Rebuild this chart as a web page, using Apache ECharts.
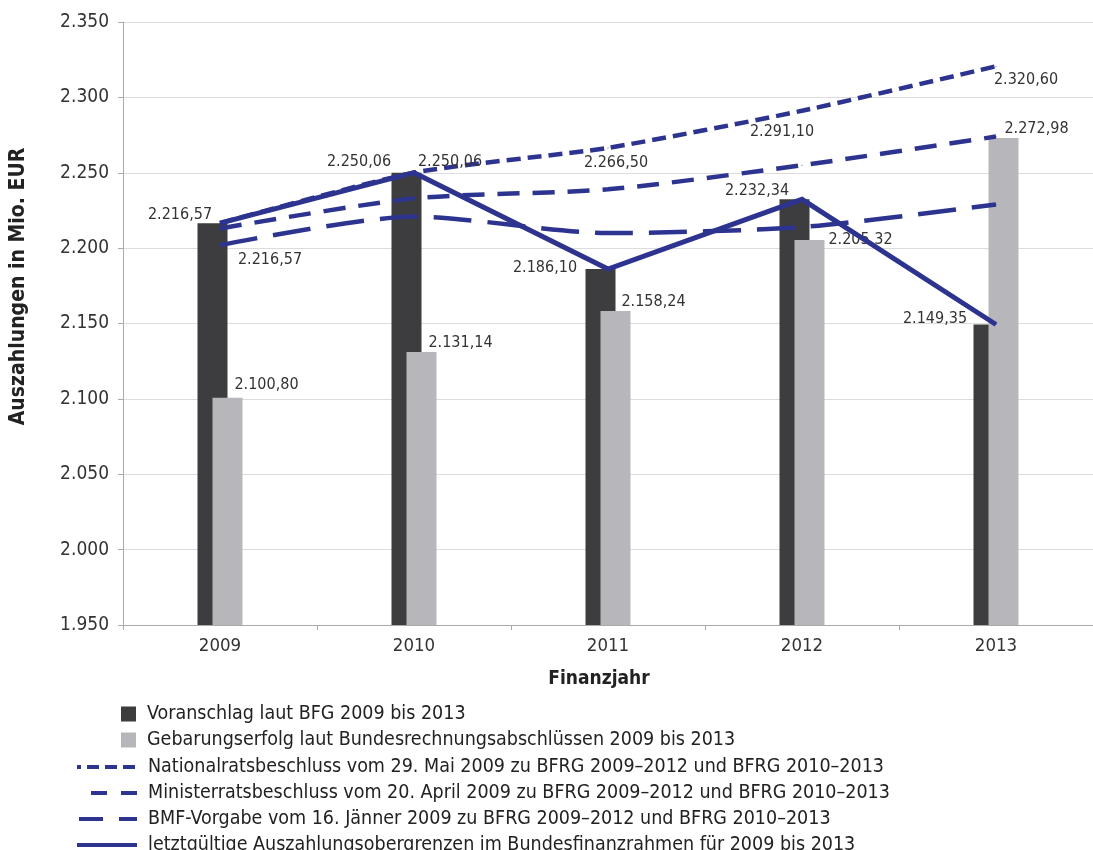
<!DOCTYPE html>
<html>
<head>
<meta charset="utf-8">
<script src="https://cdn.jsdelivr.net/npm/echarts@6/dist/echarts.min.js"></script>
<style>
html,body{margin:0;padding:0;background:#fff;}
#chart{width:1093px;height:850px;}
</style>
</head>
<body>
<div id="chart"></div>
<script>
// ---- data ----
const years = ['2009', '2010', '2011', '2012', '2013'];
const voranschlag = [2216.57, 2250.06, 2186.10, 2232.34, 2149.35];
const gebarungserfolg = [2100.80, 2131.14, 2158.24, 2205.32, 2272.98];
const nationalrat = [2216.57, 2250.06, 2266.50, 2291.10, 2320.60];
const ministerrat = [2213, 2233, 2239, 2255, 2274];
const bmfVorgabe = [2202, 2221, 2210, 2214, 2229];
const letztgueltig = [2216.57, 2250.06, 2186.10, 2232.34, 2149.35];
const yMin = 1950, yMax = 2350, yStep = 50;

const names = {
  voranschlag: 'Voranschlag laut BFG 2009 bis 2013',
  gebarung: 'Gebarungserfolg laut Bundesrechnungsabschlüssen 2009 bis 2013',
  national: 'Nationalratsbeschluss vom 29. Mai 2009 zu BFRG 2009–2012 und BFRG 2010–2013',
  minister: 'Ministerratsbeschluss vom 20. April 2009 zu BFRG 2009–2012 und BFRG 2010–2013',
  bmf: 'BMF-Vorgabe vom 16. Jänner 2009 zu BFRG 2009–2012 und BFRG 2010–2013',
  final: 'letztgültige Auszahlungsobergrenzen im Bundesfinanzrahmen für 2009 bis 2013'
};

// ---- styling (label placement offsets, px) ----
const solidLabelOffsets = [[-40, -8], [-55, -11], [-63, -1], [-45, -9], [-61, -6]];
const natLabelOffsets = [[50, 37], [36, -11], [8, 15], [-20, 21], [30, 14]];
const barLabelOffsets = [[39, -13], [39, -9], [38, -9], [51, 0], [33, -9]];

const FONT = '"DejaVu Sans Condensed", "DejaVu Sans", sans-serif';
const BLUE = '#2d3490';

function deNum(v, dec) {
  const parts = v.toFixed(dec).split('.');
  const intPart = parts[0].replace(/\B(?=(\d{3})+(?!\d))/g, '.');
  return dec > 0 ? intPart + ',' + parts[1] : intPart;
}

const labelBase = {
  show: true, fontFamily: FONT, fontSize: 16, color: '#333',
  formatter: p => deNum(p.value, 2)
};

function lineData(values, offsets) {
  return values.map((v, i) => {
    if (!offsets) return v;
    return {
      value: v,
      label: Object.assign({}, labelBase, {
        position: 'inside', align: 'center', verticalAlign: 'middle',
        offset: offsets[i]
      })
    };
  });
}

const legendText = {fontFamily: FONT, fontSize: 19.5, color: '#222', lineHeight: 20, padding: [0, 0, 0, 6]};
const lineLegendBase = {
  orient: 'vertical', left: 70,
  itemWidth: 60, itemHeight: 14, itemGap: 6,
  itemStyle: {opacity: 0},
  textStyle: legendText
};

const chart = echarts.init(document.getElementById('chart'), null, {renderer: 'canvas'});

const option = {
  backgroundColor: '#fff',
  animation: false,
  grid: {left: 122, right: -5, top: 22, bottom: 225, containLabel: false},
  xAxis: {
    type: 'category',
    data: years,
    name: 'Finanzjahr',
    nameLocation: 'middle',
    nameGap: 45,
    nameTextStyle: {fontFamily: FONT, fontSize: 19, fontWeight: 'bold', color: '#222', padding: [0, 18, 0, 0]},
    axisLine: {lineStyle: {color: '#aaa', width: 1}},
    axisTick: {show: true, length: 5, lineStyle: {color: '#aaa'}},
    axisLabel: {fontFamily: FONT, fontSize: 18.5, color: '#333', margin: 12}
  },
  yAxis: {
    type: 'value',
    min: yMin, max: yMax, interval: yStep,
    name: 'Auszahlungen in Mio. EUR',
    nameLocation: 'middle',
    nameGap: 94,
    nameRotate: 90,
    nameTextStyle: {fontFamily: FONT, fontSize: 21, fontWeight: 'bold', color: '#222', padding: [0, 0, 0, 74]},
    axisLine: {show: true, lineStyle: {color: '#aaa', width: 1}},
    axisTick: {show: true, length: 5, lineStyle: {color: '#aaa'}},
    axisLabel: {fontFamily: FONT, fontSize: 19, color: '#333', margin: 14, formatter: v => deNum(v, 0)},
    splitLine: {show: true, lineStyle: {color: '#dcdcdc', width: 1}}
  },
  legend: [
    {
      orient: 'vertical', left: 116, top: 699,
      itemWidth: 15, itemHeight: 15, itemGap: 6,
      icon: 'rect',
      textStyle: legendText,
      data: [names.voranschlag, names.gebarung]
    },
    Object.assign({}, lineLegendBase, {
      top: 752,
      data: [
        {name: names.national, lineStyle: {width: 4, type: [12, 6], dashOffset: -10}},
        {name: names.minister, lineStyle: {width: 4, type: [16, 14], dashOffset: -14}},
        {name: names.bmf, lineStyle: {width: 4, type: [24, 16], dashOffset: -2}}
      ]
    }),
    Object.assign({}, lineLegendBase, {
      top: 830,
      data: [{name: names.final, lineStyle: {width: 4}}]
    })
  ],
  series: [
    {
      name: names.voranschlag, type: 'bar', data: voranschlag,
      barWidth: 30, barGap: '-50%', z: 2,
      itemStyle: {color: '#3d3d3f'}
    },
    {
      name: names.gebarung, type: 'bar', z: 2,
      barWidth: 30, barGap: '-50%',
      itemStyle: {color: '#b7b7bb'},
      data: gebarungserfolg.map((v, i) => ({
        value: v,
        label: Object.assign({}, labelBase, {
          position: ['50%', 0], align: 'center', verticalAlign: 'middle',
          offset: barLabelOffsets[i]
        })
      }))
    },
    {
      name: names.bmf, type: 'line', z: 3, smooth: 0.25,
      symbol: 'circle', symbolSize: 1, showSymbol: true,
      itemStyle: {color: BLUE},
      lineStyle: {color: BLUE, width: 4.5, type: [38, 16], cap: 'butt'},
      data: lineData(bmfVorgabe, null)
    },
    {
      name: names.minister, type: 'line', z: 3, smooth: 0.25,
      symbol: 'circle', symbolSize: 1, showSymbol: true,
      itemStyle: {color: BLUE},
      lineStyle: {color: BLUE, width: 4.5, type: [22, 13], cap: 'butt'},
      data: lineData(ministerrat, null)
    },
    {
      name: names.national, type: 'line', z: 3, smooth: 0.2,
      symbol: 'circle', symbolSize: 1, showSymbol: true,
      itemStyle: {color: BLUE},
      lineStyle: {color: BLUE, width: 4.5, type: [14, 7], cap: 'butt'},
      data: lineData(nationalrat, natLabelOffsets)
    },
    {
      name: names.final, type: 'line', z: 4,
      symbol: 'circle', symbolSize: 1, showSymbol: true,
      itemStyle: {color: BLUE},
      lineStyle: {color: BLUE, width: 5, type: 'solid', join: 'miter'},
      data: lineData(letztgueltig, solidLabelOffsets)
    }
  ]
};
chart.setOption(option);
</script>
</body>
</html>
